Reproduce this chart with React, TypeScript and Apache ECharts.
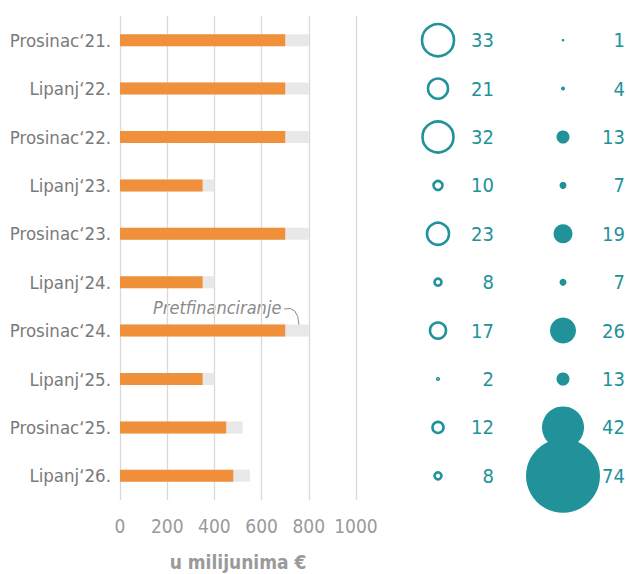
import React, { useEffect, useRef } from "react";
import * as echarts from "echarts";

const categories = [
  "Prosinac\u201821.",
  "Lipanj\u201822.",
  "Prosinac\u201822.",
  "Lipanj\u201823.",
  "Prosinac\u201823.",
  "Lipanj\u201824.",
  "Prosinac\u201824.",
  "Lipanj\u201825.",
  "Prosinac\u201825.",
  "Lipanj\u201826.",
];
const orangeValues = [700, 700, 700, 350, 700, 350, 700, 350, 450, 480];
const grayValues = [800, 800, 800, 400, 800, 400, 800, 400, 520, 550];
const openValues = [33, 21, 32, 10, 23, 8, 17, 2, 12, 8];
const filledValues = [1, 4, 13, 7, 19, 7, 26, 13, 42, 74];
const xTicks = [0, 200, 400, 600, 800, 1000];
const columns = ["open", "filled"];

const FONT = "'Liberation Sans Narrow', 'DejaVu Sans Condensed', sans-serif";
const TEAL = "#21929a";
const GRAY_TEXT = "#7a7a7a";

export default function App() {
  const ref = useRef<HTMLDivElement>(null);
  useEffect(() => {
    if (!ref.current) return;
    document.body.style.margin = "0";
    const chart = echarts.init(ref.current, undefined, { renderer: "svg" });
    const option: any = {
      animation: false,
      textStyle: { fontFamily: FONT },
      grid: [
        { left: 120, right: 273, top: 16, bottom: 74, outerBoundsMode: "none", containLabel: false },
        { left: 375.5, width: 250, top: 16, bottom: 74, outerBoundsMode: "none", containLabel: false },
      ],
      xAxis: [
        {
          gridIndex: 0,
          type: "value",
          min: xTicks[0],
          max: xTicks[xTicks.length - 1],
          interval: 200,
          axisLine: { show: false },
          axisTick: { show: false },
          splitLine: { show: true, lineStyle: { color: "#d9d9d9", width: 1.3 } },
          axisLabel: {
            color: "#9a9a9a",
            fontSize: 19,
            margin: 16,
            fontFamily: FONT,
            formatter: (v: number) => String(v),
          },
          name: "u milijunima \u20ac",
          nameLocation: "middle",
          nameGap: 52,
          nameTextStyle: { color: "#9a9a9a", fontSize: 19, fontWeight: "bold", fontFamily: FONT },
        },
        {
          gridIndex: 1,
          type: "category",
          data: columns,
          show: false,
        },
      ],
      yAxis: [
        {
          gridIndex: 0,
          type: "category",
          data: categories,
          inverse: true,
          axisLine: { show: false },
          axisTick: { show: false },
          axisLabel: { color: GRAY_TEXT, fontSize: 18.5, margin: 9, fontFamily: FONT },
        },
        {
          gridIndex: 1,
          type: "category",
          data: categories,
          inverse: true,
          show: false,
        },
      ],
      series: [
        {
          type: "bar",
          xAxisIndex: 0,
          yAxisIndex: 0,
          data: grayValues,
          barWidth: 12,
          barGap: "-100%",
          itemStyle: { color: "#e8e8e8" },
          z: 1,
        },
        {
          type: "bar",
          xAxisIndex: 0,
          yAxisIndex: 0,
          data: orangeValues,
          barWidth: 12,
          barGap: "-100%",
          itemStyle: { color: "#f0903a" },
          z: 2,
        },
        {
          type: "scatter",
          xAxisIndex: 1,
          yAxisIndex: 1,
          data: openValues.map((v, i) => [columns[0], categories[i], v]),
          symbolSize: (d: any) => Math.max(d[2] - 1, 1.5),
          itemStyle: { color: "#ffffff", borderColor: TEAL, borderWidth: 2.6, opacity: 1 },
          label: {
            show: true,
            position: "inside",
            offset: [56, 0],
            align: "right",
            formatter: (p: any) => String(p.value[2]),
            color: TEAL,
            fontSize: 20,
            fontFamily: FONT,
          },
        },
        {
          type: "scatter",
          xAxisIndex: 1,
          yAxisIndex: 1,
          data: filledValues.map((v, i) => [columns[1], categories[i], v]),
          symbolSize: (d: any) => Math.max(d[2], 2.5),
          itemStyle: { color: TEAL, opacity: 1 },
          label: {
            show: true,
            position: "inside",
            offset: [62, 0],
            align: "right",
            formatter: (p: any) => String(p.value[2]),
            color: TEAL,
            fontSize: 20,
            fontFamily: FONT,
          },
        },
      ],
      graphic: [
        {
          type: "text",
          left: 153,
          top: 298,
          style: {
            text: "Pretfinanciranje",
            fill: "#8a8a8a",
            fontSize: 18,
            fontStyle: "italic",
            fontFamily: FONT,
          },
        },
        {
          type: "bezierCurve",
          shape: { x1: 284, y1: 309, x2: 299, y2: 325, cpx1: 298, cpy1: 305 },
          style: { stroke: "#8a8a8a", lineWidth: 1, fill: "none" },
        },
      ],
    };
    chart.setOption(option);
    return () => chart.dispose();
  }, []);
  return <div ref={ref} style={{ width: 629, height: 574 }} />;
}
